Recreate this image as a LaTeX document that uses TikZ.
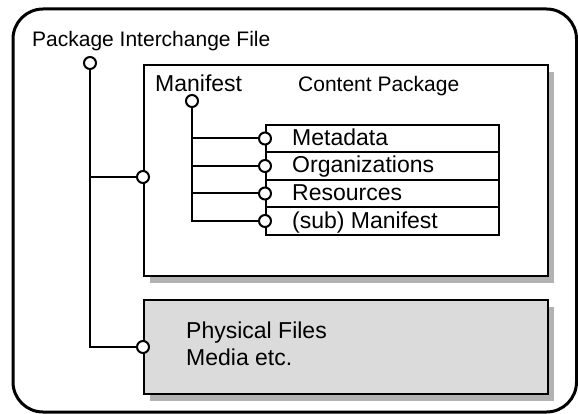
\documentclass[tikz,border=0pt]{standalone}
\usepackage{fontspec}
\setmainfont{Liberation Sans}
\usetikzlibrary{shadows}

\begin{document}
\begin{tikzpicture}
[x=1pt,y=-1pt,
port/.style={draw,circle,fill=white,inner sep=0pt,minimum size=12pt,line width=2pt},
box/.style={draw,fill=white,line width=2pt,anchor=north west,inner sep=0pt,drop shadow={shadow xshift=6pt,shadow yshift=-7pt,fill=black!30,opacity=1}},
row/.style={draw,line width=2pt,anchor=west,inner sep=0pt,minimum width=233pt,minimum height=27.5pt},
big/.style={font=\fontsize{23}{27}\selectfont,anchor=base west,inner sep=0pt},
small/.style={font=\fontsize{21}{25}\selectfont,anchor=base west,inner sep=0pt},
wire/.style={line width=2pt},]

\useasboundingbox (0,0) rectangle (578,414);

%Outer interchange file
\draw[line width=3pt,rounded corners=30pt] (13,9) rectangle (576.5,412);

%Content package and physical files
\node[box,minimum width=404pt,minimum height=211pt] (content) at (143,64) {};
\node[box,fill=black!14,minimum width=404pt,minimum height=94pt] (physical) at (143,299) {};

%Manifest rows
\node[row] (meta) at (265,138.5) {};
\node[row] (orgs) at (265,166) {};
\node[row] (res) at (265,193.5) {};
\node[row] (sub) at (265,221) {};

%Labels
\node[small] (pifl) at (32,47) {Package Interchange File};
\node[big] (manl) at (155,92) {Manifest};
\node[small] (cpl) at (298,92) {Content Package};
\node[big] (metal) at (292,146) {Metadata};
\node[big] (orgsl) at (292,173) {Organizations};
\node[big] (resl) at (292,200.5) {Resources};
\node[big] (subl) at (292,228) {(sub) Manifest};
\node[big] (phys1) at (186,338) {Physical Files};
\node[big] (phys2) at (186,365) {Media etc.};

%Ports
\node[port] (pif) at (90,63) {};
\node[port] (cpp) at (143,177) {};
\node[port] (php) at (143,347) {};
\node[port] (man) at (192,101) {};
\node[port] (metap) at (meta.west) {};
\node[port] (orgsp) at (orgs.west) {};
\node[port] (resp) at (res.west) {};
\node[port] (subp) at (sub.west) {};

%Wires
\draw[wire] (pif) |- (php);
\draw[wire] (pif) |- (cpp);
\draw[wire] (man) |- (metap);
\draw[wire] (man) |- (orgsp);
\draw[wire] (man) |- (resp);
\draw[wire] (man) |- (subp);

\end{tikzpicture}
\end{document}
